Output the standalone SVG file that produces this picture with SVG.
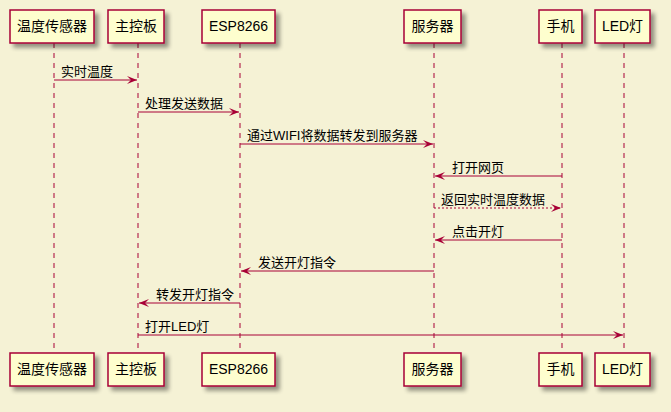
<svg xmlns="http://www.w3.org/2000/svg" width="671" height="412" viewBox="0 0 671 412">
<defs>
<filter id="sh" x="-20%" y="-20%" width="150%" height="160%">
<feGaussianBlur in="SourceAlpha" stdDeviation="2"/>
<feOffset dx="4" dy="4" result="b"/>
<feComponentTransfer><feFuncA type="linear" slope="0.4"/></feComponentTransfer>
<feMerge><feMergeNode/><feMergeNode in="SourceGraphic"/></feMerge>
</filter>
<marker id="ah" viewBox="0 0 10 8" refX="10" refY="4" markerWidth="10" markerHeight="8" markerUnits="userSpaceOnUse" orient="auto">
<polygon points="0,0 10,4 0,8 4,4" fill="#A80036"/>
</marker>
</defs>
<style>
.box{fill:#FEFECE;stroke:#A80036;stroke-width:1.5;filter:url(#sh)}
.life{stroke:#A80036;stroke-width:1;stroke-dasharray:5,5;fill:none}
.pl{font-family:"Liberation Sans","Noto Sans CJK SC",sans-serif;font-size:14px;fill:#000;text-anchor:middle}
.msg{stroke:#A80036;stroke-width:1;fill:none;marker-end:url(#ah)}
.dot{stroke-dasharray:2,2}
.ml{font-family:"Liberation Sans","Noto Sans CJK SC",sans-serif;font-size:13px;fill:#000}
</style>
<rect width="671" height="412" fill="#F5F2D5"/>
<g id="lifelines">
<line class="life" x1="54" y1="43" x2="54" y2="353"/>
<line class="life" x1="138" y1="43" x2="138" y2="353"/>
<line class="life" x1="240" y1="43" x2="240" y2="353"/>
<line class="life" x1="434" y1="43" x2="434" y2="353"/>
<line class="life" x1="562" y1="43" x2="562" y2="353"/>
<line class="life" x1="624" y1="43" x2="624" y2="353"/>
</g>
<g id="p-sensor">
<rect class="box" x="10" y="10" width="84" height="33"/><text class="pl" x="52" y="31">温度传感器</text>
<rect class="box" x="10" y="353" width="84" height="33"/><text class="pl" x="52" y="374">温度传感器</text>
</g>
<g id="p-board">
<rect class="box" x="108" y="10" width="56" height="33"/><text class="pl" x="136" y="31">主控板</text>
<rect class="box" x="108" y="353" width="56" height="33"/><text class="pl" x="136" y="374">主控板</text>
</g>
<g id="p-esp">
<rect class="box" x="202" y="10" width="73" height="33"/><text class="pl" x="238.5" y="31">ESP8266</text>
<rect class="box" x="202" y="353" width="73" height="33"/><text class="pl" x="238.5" y="374">ESP8266</text>
</g>
<g id="p-server">
<rect class="box" x="404" y="10" width="57" height="33"/><text class="pl" x="432.5" y="31">服务器</text>
<rect class="box" x="404" y="353" width="57" height="33"/><text class="pl" x="432.5" y="374">服务器</text>
</g>
<g id="p-phone">
<rect class="box" x="539" y="10" width="43" height="33"/><text class="pl" x="560.5" y="31">手机</text>
<rect class="box" x="539" y="353" width="43" height="33"/><text class="pl" x="560.5" y="374">手机</text>
</g>
<g id="p-led">
<rect class="box" x="595" y="10" width="55" height="33"/><text class="pl" x="622.5" y="31">LED灯</text>
<rect class="box" x="595" y="353" width="55" height="33"/><text class="pl" x="622.5" y="374">LED灯</text>
</g>
<g id="connectors">
<line class="msg" x1="54" y1="80" x2="137" y2="80"/>
<text class="ml" x="61" y="76">实时温度</text>
<line class="msg" x1="138" y1="112" x2="239" y2="112"/>
<text class="ml" x="145" y="108">处理发送数据</text>
<line class="msg" x1="240" y1="144" x2="433" y2="144"/>
<text class="ml" x="247" y="140">通过WIFI将数据转发到服务器</text>
<line class="msg" x1="562" y1="176" x2="435" y2="176"/>
<text class="ml" x="452" y="172">打开网页</text>
<line class="msg dot" x1="434" y1="208" x2="561" y2="208"/>
<text class="ml" x="441" y="204">返回实时温度数据</text>
<line class="msg" x1="562" y1="240" x2="435" y2="240"/>
<text class="ml" x="452" y="236">点击开灯</text>
<line class="msg" x1="434" y1="271" x2="241" y2="271"/>
<text class="ml" x="258" y="267">发送开灯指令</text>
<line class="msg" x1="240" y1="303" x2="139" y2="303"/>
<text class="ml" x="156" y="299">转发开灯指令</text>
<line class="msg" x1="138" y1="335" x2="623" y2="335"/>
<text class="ml" x="145" y="331">打开LED灯</text>
</g>
</svg>
